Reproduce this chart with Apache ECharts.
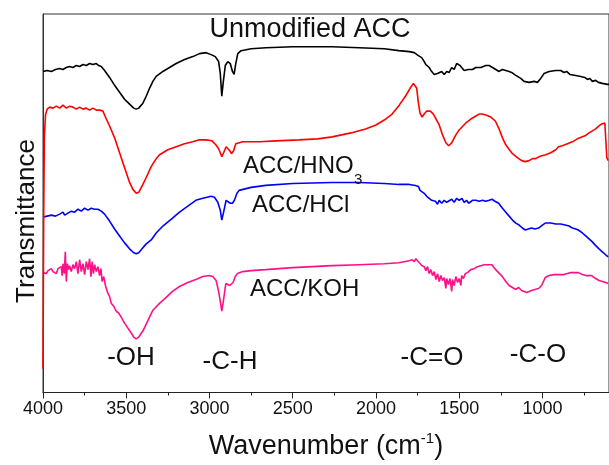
<!DOCTYPE html>
<html>
<head>
<meta charset="utf-8">
<script src="https://cdn.jsdelivr.net/npm/echarts@6/dist/echarts.min.js"></script>
<style>html,body{margin:0;padding:0;background:#fff;}#c{width:609px;height:465px;}</style>
</head>
<body>
<div id="c"></div>
<script>
const majorTicks = [4000, 3500, 3000, 2500, 2000, 1500, 1000];
const minorTicks = [3750, 3250, 2750, 2250, 1750, 1250, 750];

const unmodified = [[4000,352],[3975,353],[3950,352],[3925,354],[3900,355],[3880,354],[3860,356],[3840,357],[3820,356],[3800,358],[3780,357],[3760,359],[3740,358],[3720,360],[3700,359],[3680,360],[3665,358],[3650,357],[3630,353],[3600,346],[3570,338],[3540,331],[3510,324],[3480,319],[3455,315],[3440,314],[3425,315],[3400,320],[3380,327],[3360,335],[3340,342],[3320,347],[3280,352],[3240,356],[3200,360],[3150,364],[3100,367],[3060,370],[3020,371],[2990,369],[2965,367],[2945,362],[2935,350],[2926,327],[2918,340],[2905,358],[2890,362],[2875,360],[2862,352],[2852,349],[2842,360],[2830,370],[2810,373],[2750,375],[2660,376],[2500,377],[2263,377],[2100,376],[1950,375],[1863,373],[1800,372],[1770,371],[1745,368],[1725,366],[1710,362],[1700,359],[1690,360],[1680,356],[1670,353],[1660,354],[1650,349],[1640,347],[1630,350],[1620,348],[1605,352],[1590,349],[1575,352],[1560,351],[1545,356],[1530,354],[1515,360],[1505,362],[1495,358],[1485,359],[1470,353],[1460,351],[1445,354],[1420,354],[1400,356],[1370,356],[1340,358],[1320,358],[1300,356],[1280,354],[1263,352],[1240,354],[1200,352],[1185,351],[1160,348],[1130,345],[1110,342],[1080,341],[1050,342],[1030,341],[1010,345],[990,350],[960,352],[920,353],[890,353],[870,351],[855,352],[835,349],[826,347],[800,348],[770,347],[745,346],[730,344],[715,345],[700,342],[680,343],[664,341],[640,340],[610,339],[600,339]];

const hno3 = [[4000,52],[3996,200],[3992,285],[3985,308],[3975,314],[3960,316],[3940,315],[3920,317],[3900,315],[3880,318],[3860,315],[3840,317],[3820,316],[3800,314],[3780,316],[3760,314],[3740,315],[3720,313],[3700,315],[3680,313],[3660,313],[3640,312],[3625,306],[3600,297],[3570,285],[3540,270],[3522,261],[3500,250],[3480,240],[3460,233],[3440,229],[3425,230],[3400,238],[3380,245],[3350,256],[3320,264],[3300,268],[3250,273],[3200,276],[3150,279],[3100,281],[3062,283],[3020,283],[2985,282],[2962,278],[2945,274],[2935,270],[2926,266],[2915,270],[2900,276],[2890,276],[2878,272],[2868,269],[2855,272],[2842,279],[2800,281],[2700,281],[2600,282],[2462,283],[2350,284],[2263,286],[2150,290],[2062,294],[2000,298],[1950,303],[1903,309],[1860,318],[1823,327],[1795,335],[1775,340],[1765,341],[1755,335],[1745,320],[1735,310],[1723,306],[1710,309],[1695,312],[1673,312],[1655,309],[1643,307],[1620,298],[1600,288],[1580,280],[1563,277],[1545,280],[1520,288],[1500,293],[1483,296],[1460,300],[1430,304],[1400,307],[1380,309],[1363,309],[1340,308],[1310,306],[1283,302],[1260,294],[1240,285],[1220,278],[1203,274],[1180,269],[1150,265],[1125,262],[1103,261],[1080,262],[1060,264],[1040,264],[1020,266],[1004,267],[980,268],[950,270],[920,273],[903,276],[880,277],[850,279],[820,281],[790,284],[760,286],[744,287],[720,290],[700,292],[680,294],[660,297],[644,299],[625,300],[616,298],[613,265],[605,262]];

const hcl = [[4000,205],[3975,206],[3950,207],[3925,206],[3900,208],[3880,210],[3870,207],[3850,209],[3830,211],[3810,210],[3790,213],[3770,211],[3750,214],[3730,212],[3710,214],[3690,213],[3670,213],[3650,211],[3630,208],[3600,201],[3570,193],[3540,186],[3510,179],[3480,173],[3455,169],[3440,168],[3425,169],[3400,174],[3380,178],[3350,182],[3320,189],[3280,196],[3222,204],[3180,210],[3130,216],[3082,222],[3040,224],[2990,226],[2970,225],[2950,220],[2935,212],[2926,202],[2915,210],[2900,222],[2890,222],[2875,219],[2862,219],[2850,222],[2835,229],[2822,232],[2750,235],[2662,237],[2500,239],[2263,240],[2100,240],[1950,239],[1863,238],[1800,238],[1763,237],[1745,236],[1735,232],[1723,232],[1710,229],[1695,226],[1680,224],[1665,222],[1643,221],[1630,218],[1620,222],[1605,219],[1590,222],[1575,220],[1563,221],[1545,223],[1530,220],[1515,224],[1500,222],[1483,224],[1470,220],[1455,222],[1443,219],[1420,222],[1400,222],[1380,221],[1360,222],[1340,221],[1320,222],[1303,223],[1285,221],[1263,219],[1240,214],[1220,210],[1200,206],[1180,202],[1160,199],[1140,197],[1120,194],[1103,192],[1085,193],[1065,194],[1045,193],[1023,194],[1000,197],[983,199],[950,199],[920,198],[890,198],[864,197],[840,196],[820,194],[800,193],[784,192],[760,189],[740,186],[720,183],[700,180],[684,177],[660,173],[640,170],[620,167],[605,165]];

const koh = [[4000,149],[3990,150],[3980,148],[3970,151],[3960,149],[3950,153],[3940,150],[3930,152],[3920,148],[3910,153],[3900,151],[3890,155],[3885,146],[3880,158],[3872,148],[3866,170],[3860,140],[3854,158],[3846,152],[3840,156],[3830,150],[3820,157],[3810,153],[3800,160],[3790,148],[3780,162],[3770,150],[3760,158],[3750,147],[3740,160],[3730,152],[3720,163],[3712,145],[3705,160],[3697,148],[3690,157],[3680,150],[3670,155],[3660,146],[3652,153],[3645,140],[3635,145],[3625,136],[3610,128],[3600,125],[3590,118],[3575,115],[3560,110],[3545,108],[3530,104],[3510,98],[3490,93],[3470,88],[3455,84],[3440,82],[3425,84],[3400,90],[3380,97],[3360,104],[3340,111],[3300,118],[3260,124],[3222,130],[3180,135],[3130,139],[3082,142],[3040,145],[3002,146],[2980,145],[2960,141],[2945,130],[2935,120],[2926,110],[2915,122],[2902,138],[2890,140],[2878,136],[2870,134],[2858,139],[2845,145],[2832,148],[2800,150],[2750,151],[2662,152],[2500,154],[2263,156],[2100,157],[1950,158],[1863,159],[1800,161],[1783,162],[1770,160],[1760,163],[1745,160],[1735,158],[1723,156],[1710,155],[1700,151],[1690,155],[1680,148],[1670,152],[1660,146],[1650,150],[1640,142],[1630,148],[1620,140],[1610,146],[1600,141],[1590,144],[1580,133],[1575,143],[1565,137],[1555,143],[1545,130],[1540,142],[1530,136],[1520,145],[1510,139],[1500,143],[1490,136],[1485,146],[1475,143],[1463,148],[1450,149],[1430,152],[1410,153],[1390,155],[1370,156],[1350,157],[1330,157],[1303,157],[1290,154],[1275,151],[1263,150],[1240,145],[1220,140],[1200,136],[1180,134],[1160,132],[1143,134],[1125,131],[1110,130],[1095,129],[1083,129],[1065,131],[1045,132],[1023,133],[1005,136],[983,144],[960,146],[930,147],[900,147],[870,147],[850,148],[830,149],[800,149],[784,149],[760,147],[740,146],[720,146],[704,146],[680,143],[660,141],[640,140],[620,139],[605,138]];

const seriesNames = ['Unmodified ACC', 'ACC/HNO3', 'ACC/HCl', 'ACC/KOH'];
const seriesColors = ['#000000', '#ff0000', '#0000ff', '#ff1088'];

const FONT = "'Liberation Sans', Arial, sans-serif";
const chart = echarts.init(document.getElementById('c'), null, {renderer: 'canvas'});

function txt(text, x, y, size, align) {
  return {type: 'text', x: x, y: y, z: 100, style: {text: text, fill: '#111', font: size + 'px ' + FONT, align: align || 'center', verticalAlign: 'middle'}};
}

const option = {
  animation: false,
  backgroundColor: '#ffffff',
  grid: {left: 43, top: 14, width: 569, height: 382, show: true, borderColor: '#333', borderWidth: 1, backgroundColor: 'transparent'},
  xAxis: [{
    type: 'value', min: 600, max: 4000, inverse: true, position: 'bottom',
    axisLine: {show: true, lineStyle: {color: '#222', width: 1}},
    axisTick: {show: true, inside: false, length: 6, customValues: majorTicks, lineStyle: {color: '#222'}},
    axisLabel: {show: true, customValues: majorTicks, formatter: v => String(v), color: '#111', fontSize: 18, fontFamily: FONT, margin: 8},
    splitLine: {show: false},
    name: 'Wavenumber (cm{sup|-1})', nameLocation: 'middle', nameGap: 39,
    nameTextStyle: {color: '#111', fontSize: 27, fontFamily: FONT, rich: {sup: {fontSize: 15, fontFamily: FONT, color: '#111', verticalAlign: 'top', lineHeight: 30}}}
  }, {
    type: 'value', min: 600, max: 4000, inverse: true, position: 'bottom',
    axisLine: {show: false},
    axisTick: {show: true, inside: false, length: 3, customValues: minorTicks, lineStyle: {color: '#222'}},
    axisLabel: {show: false},
    splitLine: {show: false}
  }],
  yAxis: {
    type: 'value', min: 28, max: 410,
    axisLine: {show: true, lineStyle: {color: '#333'}}, axisTick: {show: false}, axisLabel: {show: false}, splitLine: {show: false}
  },
  series: [unmodified, hno3, hcl, koh].map((d, i) => ({
    name: seriesNames[i], type: 'line', data: d, showSymbol: false, symbol: 'none',
    xAxisIndex: 0, yAxisIndex: 0, clip: true,
    lineStyle: {color: seriesColors[i], width: 1.6}, z: 10 - i
  })),
  graphic: [
    txt('Unmodified ACC', 310, 30, 27),
    txt('ACC/HNO', 243, 166, 24, 'left'),
    txt('3', 354, 180, 15, 'left'),
    txt('ACC/HCl', 252, 205, 24, 'left'),
    txt('ACC/KOH', 250, 289, 24, 'left'),
    txt('-OH', 131, 358, 26),
    txt('-C-H', 230, 362, 26),
    txt('-C=O', 432, 358, 26),
    txt('-C-O', 538, 355, 26),
    {type: 'text', x: 27, y: 221, rotation: Math.PI / 2, z: 100, style: {text: 'Transmittance', fill: '#111', font: '26px ' + FONT, align: 'center', verticalAlign: 'middle'}}
  ]
};
chart.setOption(option);
</script>
</body>
</html>
